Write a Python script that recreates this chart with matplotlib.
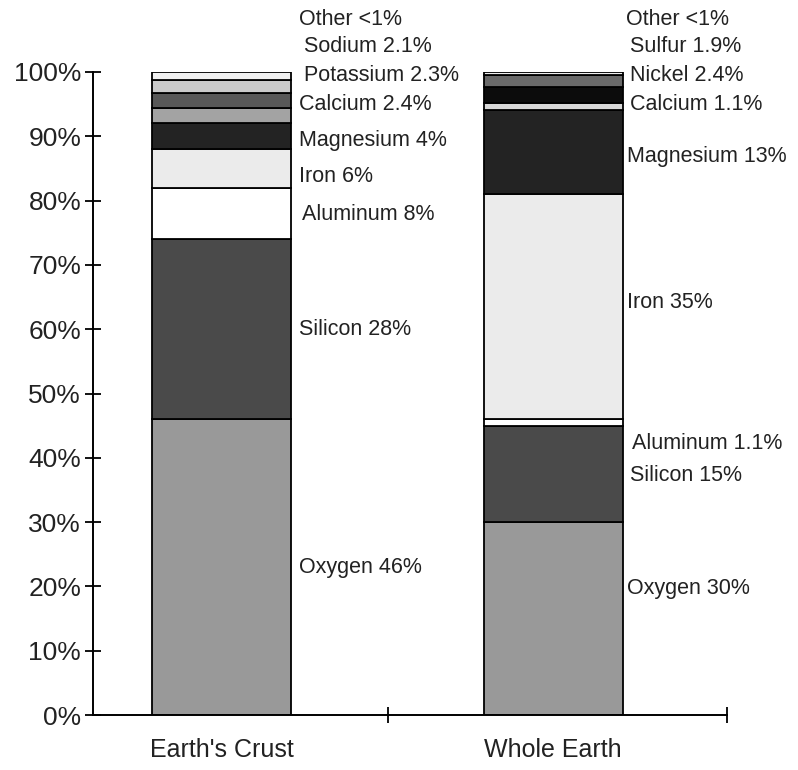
import matplotlib.pyplot as plt
import numpy as np

plt.rcParams['font.family'] = ['Liberation Sans', 'DejaVu Sans']

# Data
categories = ["Earth's Crust", 'Whole Earth']

crust_elements = ['Oxygen', 'Silicon', 'Aluminum', 'Iron', 'Magnesium',
                  'Calcium', 'Potassium', 'Sodium', 'Other']
crust_values = [46, 28, 8, 6, 4, 2.4, 2.3, 2.1, 1.2]
crust_labels = ['Oxygen 46%', 'Silicon 28%', 'Aluminum 8%', 'Iron 6%', 'Magnesium 4%',
                'Calcium 2.4%', 'Potassium 2.3%', 'Sodium 2.1%', 'Other <1%']

whole_elements = ['Oxygen', 'Silicon', 'Aluminum', 'Iron', 'Magnesium',
                  'Calcium', 'Nickel', 'Sulfur', 'Other']
whole_values = [30, 15, 1.1, 35, 13, 1.1, 2.4, 1.9, 0.5]
whole_labels = ['Oxygen 30%', 'Silicon 15%', 'Aluminum 1.1%', 'Iron 35%', 'Magnesium 13%',
                'Calcium 1.1%', 'Nickel 2.4%', 'Sulfur 1.9%', 'Other <1%']

# grey shades per element
shade = {'Oxygen': '#999999', 'Silicon': '#4a4a4a', 'Aluminum': '#ffffff',
         'Iron': '#ebebeb', 'Magnesium': '#232323', 'Calcium': '#a3a3a3',
         'Potassium': '#585858', 'Sodium': '#cacaca', 'Other': '#f0f0f0',
         'Nickel': '#0c0c0c', 'Sulfur': '#6a6a6a'}
shade_whole = dict(shade, Calcium='#d8d8d8')

# label placement (y in %, x in axes fraction)
crust_label_y = [23.0, 59.9, 77.9, 83.7, 89.3, 95.0, 99.4, 103.9, 108.1]
crust_label_x = [0.325, 0.325, 0.330, 0.325, 0.325, 0.325, 0.333, 0.333, 0.325]
whole_label_y = [19.6, 37.3, 42.3, 64.2, 86.8, 95.0, 99.4, 103.9, 108.1]
whole_label_x = [0.843, 0.847, 0.850, 0.843, 0.843, 0.847, 0.847, 0.847, 0.840]

fig = plt.figure(figsize=(7.98, 7.70), dpi=100)
ax = fig.add_axes([0.1165, 0.0714, 0.7945, 0.8351])

x = [0.203, 0.726]
width = 0.219

for xi, vals, elems, pal in [(x[0], crust_values, crust_elements, shade),
                             (x[1], whole_values, whole_elements, shade_whole)]:
    bottom = 0
    for v, e in zip(vals, elems):
        ax.bar(xi, v, width, bottom=bottom, color=pal[e], edgecolor='black', linewidth=1.3)
        bottom += v

for lab, ly, lx in zip(crust_labels, crust_label_y, crust_label_x):
    ax.text(lx, ly, lab, ha='left', va='center', fontsize=15.5, color='#222222', clip_on=False)
for lab, ly, lx in zip(whole_labels, whole_label_y, whole_label_x):
    ax.text(lx, ly, lab, ha='left', va='center', fontsize=15.5, color='#222222', clip_on=False)

ax.set_xlim(0, 1)
ax.set_ylim(0, 100)
ax.set_yticks(np.arange(0, 101, 10))
ax.set_yticklabels([f'{t}%' for t in range(0, 101, 10)], fontsize=19, color='#222222')
ax.set_xticks([0.465, 1.0])
ax.set_xticklabels([])
ax.tick_params(axis='both', direction='inout', length=11, width=1.3, pad=2)
ax.tick_params(axis='y', pad=3)

for xi, cat in zip(x, categories):
    ax.text(xi, -5.4, cat, ha='center', va='center', fontsize=18, color='#222222', clip_on=False)

for s in ['top', 'right']:
    ax.spines[s].set_visible(False)
for s in ['left', 'bottom']:
    ax.spines[s].set_linewidth(1.4)

plt.savefig('out.png', dpi=100)
